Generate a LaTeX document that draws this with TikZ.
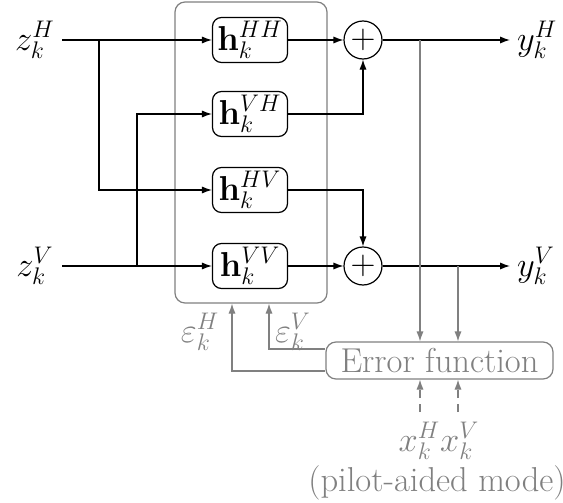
\documentclass[tikz,border=0pt]{standalone}
\usepackage{fix-cm}
\usetikzlibrary{arrows.meta,calc}
\begin{document}
\begin{tikzpicture}[x=0.5pt,y=-0.5pt,
  every node/.style={font=\fontsize{17.28}{20}\selectfont},
  arr/.style={line width=0.6pt,-{Latex[length=5pt,width=3.6pt]}},
  garr/.style={arr,draw=gray},
  hbox/.style={draw,line width=0.6pt,rounded corners=4.5pt,minimum width=37.5pt,minimum height=22.5pt,inner sep=0pt},
  sumnode/.style={draw,circle,line width=0.6pt,minimum size=19pt,inner sep=0pt},
  glab/.style={text=gray,inner sep=0.5pt}]
\useasboundingbox (0,0) rectangle (563,503);
% big gray box
\node[draw=gray,line width=0.6pt,rounded corners=5pt,minimum width=76pt,minimum height=150.5pt] (eq) at (251,152.5) {};
% filter nodes
\node[hbox] (hh) at (250,40) {$\mathbf{h}_k^{HH}$};
\node[hbox] (vh) at (250,114) {$\mathbf{h}_k^{VH}$};
\node[hbox] (hv) at (250,190) {$\mathbf{h}_k^{HV}$};
\node[hbox] (vv) at (250,266) {$\mathbf{h}_k^{VV}$};
% sums
\node[sumnode] (s1) at (363,40) {$+$};
\node[sumnode] (s2) at (363,266) {$+$};
% inputs
\node (zh) at (35,40) {$z_k^H$};
\node (zv) at (35,266) {$z_k^V$};
\coordinate (zhs) at (62,40);
\coordinate (zvs) at (62,266);
\coordinate (b1) at (99,40);
\coordinate (b2) at (137,266);
\draw[arr] (zhs) -- (hh.west);
\draw[arr] (zvs) -- (vv.west);
\draw[arr] (b1) |- (hv.west);
\draw[arr] (b2) |- (vh.west);
% to sums
\draw[arr] (hh.east) -- (s1.west);
\draw[arr] (vv.east) -- (s2.west);
\draw[arr] (vh.east) -| (s1.south);
\draw[arr] (hv.east) -| (s2.north);
% outputs
\node[anchor=west] (yh) at (510,40) {$y_k^H$};
\node[anchor=west] (yv) at (510,266) {$y_k^V$};
\draw[arr] (s1.east) -- (yh.west);
\draw[arr] (s2.east) -- (yv.west);
% error function
\node[draw=gray,text=gray,line width=0.6pt,rounded corners=5pt,minimum width=113.5pt,minimum height=18.5pt,inner sep=0pt] (err) at (439.5,360.5) {Error function};
\coordinate (t1) at (420,40);
\coordinate (t2) at (458,266);
\draw[garr] (t1) -- (t1 |- err.north);
\draw[garr] (t2) -- (t2 |- err.north);
% error feedback
\coordinate (ev) at (err.west |- 0,349);
\coordinate (eh) at (err.west |- 0,371);
\draw[garr] (ev) -| (269,0 |- eq.south);
\draw[garr] (eh) -| (232,0 |- eq.south);
\node[glab] (epsh) at (200,332) {$\varepsilon_k^H$};
\node[glab] (epsv) at (293,332) {$\varepsilon_k^V$};
% pilot inputs
\coordinate (p1) at (420,412);
\coordinate (p2) at (458,412);
\draw[garr,dash pattern=on 4pt off 3pt] (p1) -- (p1 |- err.south);
\draw[garr,dash pattern=on 4pt off 3pt] (p2) -- (p2 |- err.south);
\node[glab] (xx) at (439,441) {$x_k^Hx_k^V$};
\node[glab] (pm) at (437,483) {(pilot-aided mode)};
\end{tikzpicture}
\end{document}
